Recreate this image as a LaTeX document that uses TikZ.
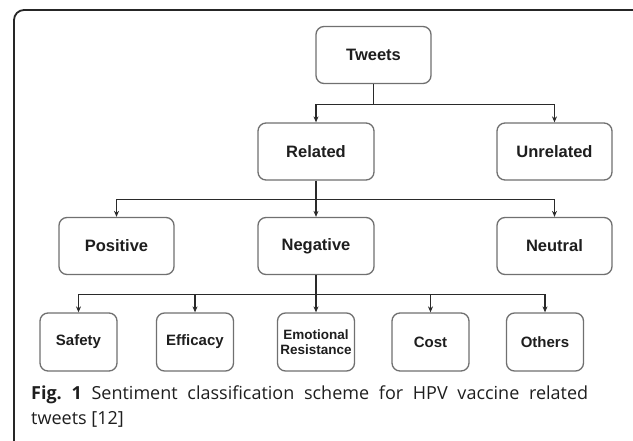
\documentclass[tikz,border=0pt]{standalone}
\usepackage{fontspec}
\setmainfont{Liberation Sans}
\newfontfamily\capfont{Open Sans}
\usetikzlibrary{arrows.meta,calc}
\definecolor{boxgray}{HTML}{707070}
\definecolor{txt}{HTML}{1E1E1E}
\definecolor{linegray}{HTML}{2A2A2A}
\begin{document}
\begin{tikzpicture}[x=1pt,y=-1pt,
  catbox/.style={draw=boxgray, line width=1.3pt, rounded corners=8pt, fill=white,
    minimum width=115pt, minimum height=57pt, inner sep=2pt, align=center,
    text=txt, font=\fontsize{16.5}{18}\selectfont\bfseries},
  leafbox/.style={catbox, minimum width=77pt, minimum height=58pt,
    font=\fontsize{15}{16}\selectfont\bfseries},
  wire/.style={draw=linegray, line width=1.1pt},
  conn/.style={wire, -{Stealth[length=6pt,width=5pt]}},
  frame/.style={draw=black!85, line width=1.8pt, rounded corners=10pt},
  captext/.style={anchor=base west, inner sep=0pt, text=txt, font=\capfont\fontsize{18}{20}\selectfont}
]
\useasboundingbox (0,0) rectangle (633,440);
\clip (0,0) rectangle (633,440);
\draw[frame] (14,10) rectangle (652,452);

\node[catbox] (tw) at (373.5,55) {Tweets};
\node[catbox, minimum width=116pt] (rel) at (316,151.5) {Related};
\node[catbox] (unrel) at (554.5,151.5) {Unrelated};
\node[catbox] (pos) at (116.5,246) {Positive};
\node[catbox, minimum width=116pt] (neg) at (316,246) {Negative};
\node[catbox] (neu) at (554.5,246) {Neutral};

\node[leafbox] (saf) at (78.5,342) {Safety};
\node[leafbox] (eff) at (195,342) {Efficacy};
\node[leafbox, inner sep=1pt, font=\fontsize{13.5}{15}\selectfont\bfseries] (emo) at (316,342) {Emotional\\Resistance};
\node[leafbox] (cost) at (430.5,342) {Cost};
\node[leafbox] (oth) at (545,342) {Others};

\coordinate (j1) at ($(tw.south)+(0pt,-20pt)$);
\coordinate (j2) at ($(rel.south)+(0pt,-19pt)$);
\coordinate (j3) at ($(neg.south)+(0pt,-19pt)$);

\draw[wire] (tw.south) -- (j1);
\draw[conn] (j1) -| (rel.north);
\draw[conn] (j1) -| (unrel.north);

\draw[wire] (rel.south) -- (j2);
\draw[conn] (j2) -| (pos.north);
\draw[conn] (j2) -- (neg.north);
\draw[conn] (j2) -| (neu.north);

\draw[wire] (neg.south) -- (j3);
\draw[conn] (j3) -| (saf.north);
\draw[conn] (j3) -| (eff.north);
\draw[conn] (j3) -- (emo.north);
\draw[conn] (j3) -| (cost.north);
\draw[conn] (j3) -| (oth.north);

\node[captext] (cap1) at (31,399)
  {\makebox[557pt][s]{\textbf{Fig.\ 1} Sentiment classification scheme for HPV vaccine related}};
\node[captext] (cap2) at (31,424) {tweets [12]};
\end{tikzpicture}
\end{document}
